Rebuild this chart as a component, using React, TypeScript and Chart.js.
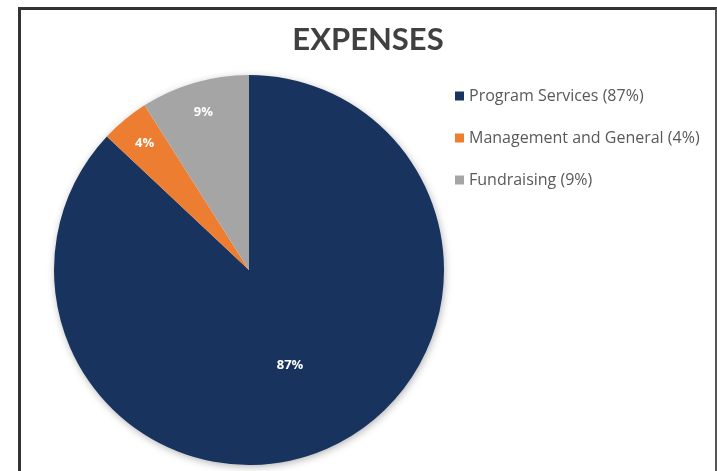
import { useEffect, useRef } from "react";
import { Chart, registerables } from "chart.js";

Chart.register(...registerables);

const title = "EXPENSES";
const categories = ["Program Services", "Management and General", "Fundraising"];
const values = [87, 4, 9];
const sliceLabels = ["87%", "4%", "9%"];
const legendLabels = ["Program Services (87%)", "Management and General (4%)", "Fundraising (9%)"];
const colors = ["#17335E", "#ED7D31", "#A5A5A5"];

const labelRadiusFraction = [0.53, 0.84, 0.84];

const shadowPlugin = {
  id: "pieShadow",
  beforeDatasetsDraw(chart: any) {
    const meta = chart.getDatasetMeta(0);
    const arc = meta.data[0];
    if (!arc) return;
    const ctx = chart.ctx;
    ctx.save();
    ctx.shadowColor = "rgba(0,0,0,0.35)";
    ctx.shadowBlur = 8;
    ctx.shadowOffsetX = 1;
    ctx.shadowOffsetY = 2;
    ctx.fillStyle = "#ffffff";
    ctx.beginPath();
    ctx.arc(arc.x, arc.y, arc.outerRadius - 1, 0, Math.PI * 2);
    ctx.fill();
    ctx.restore();
  },
};

const labelsPlugin = {
  id: "sliceLabels",
  afterDatasetsDraw(chart: any) {
    const meta = chart.getDatasetMeta(0);
    const ctx = chart.ctx;
    ctx.save();
    ctx.fillStyle = "#ffffff";
    ctx.font = "bold 13px 'Open Sans'";
    ctx.textAlign = "center";
    ctx.textBaseline = "middle";
    meta.data.forEach((arc: any, i: number) => {
      const mid = (arc.startAngle + arc.endAngle) / 2;
      const r = arc.outerRadius * labelRadiusFraction[i];
      ctx.fillText(sliceLabels[i], arc.x + Math.cos(mid) * r, arc.y + Math.sin(mid) * r);
    });
    ctx.restore();
  },
};

const titleLegendPlugin = {
  id: "titleLegend",
  afterDraw(chart: any) {
    const ctx = chart.ctx;
    ctx.save();
    ctx.fillStyle = "#404040";
    ctx.font = "bold 31px Lato";
    ctx.textAlign = "center";
    ctx.textBaseline = "alphabetic";
    ctx.fillText(title, 368, 50);

    ctx.font = "16px 'Open Sans'";
    ctx.textAlign = "left";
    ctx.textBaseline = "middle";
    legendLabels.forEach((t, i) => {
      const y = 96 + i * 42;
      ctx.fillStyle = colors[i];
      ctx.fillRect(455, y - 4.5, 9, 9);
      ctx.fillStyle = "#595959";
      ctx.fillText(t, 469, y);
    });
    ctx.restore();
  },
};

export default function App() {
  const ref = useRef<HTMLCanvasElement | null>(null);

  useEffect(() => {
    document.body.style.margin = "0";
    const canvas = ref.current;
    if (!canvas) return;
    const chart = new Chart(canvas, {
      type: "pie",
      data: {
        labels: categories,
        datasets: [
          {
            data: values,
            backgroundColor: colors,
            borderWidth: 0,
          },
        ],
      },
      options: {
        animation: false,
        responsive: false,
        devicePixelRatio: 1,
        layout: { padding: { left: 53, right: 272, top: 75, bottom: 6 } },
        plugins: {
          legend: { display: false },
          title: { display: false },
          tooltip: { enabled: false },
        },
      },
      plugins: [shadowPlugin, labelsPlugin, titleLegendPlugin],
    });
    return () => chart.destroy();
  }, []);

  return (
    <div style={{ position: "relative", width: 717, height: 471, overflow: "hidden", background: "#ffffff" }}>
      <canvas ref={ref} width={717} height={471} style={{ position: "absolute", left: 0, top: 0 }} />
      <div
        style={{
          position: "absolute",
          left: 18,
          top: 7,
          width: 699,
          height: 464,
          boxSizing: "border-box",
          borderTop: "3px solid #333333",
          borderLeft: "3px solid #333333",
          borderRight: "2px solid #555555",
          pointerEvents: "none",
        }}
      />
    </div>
  );
}
